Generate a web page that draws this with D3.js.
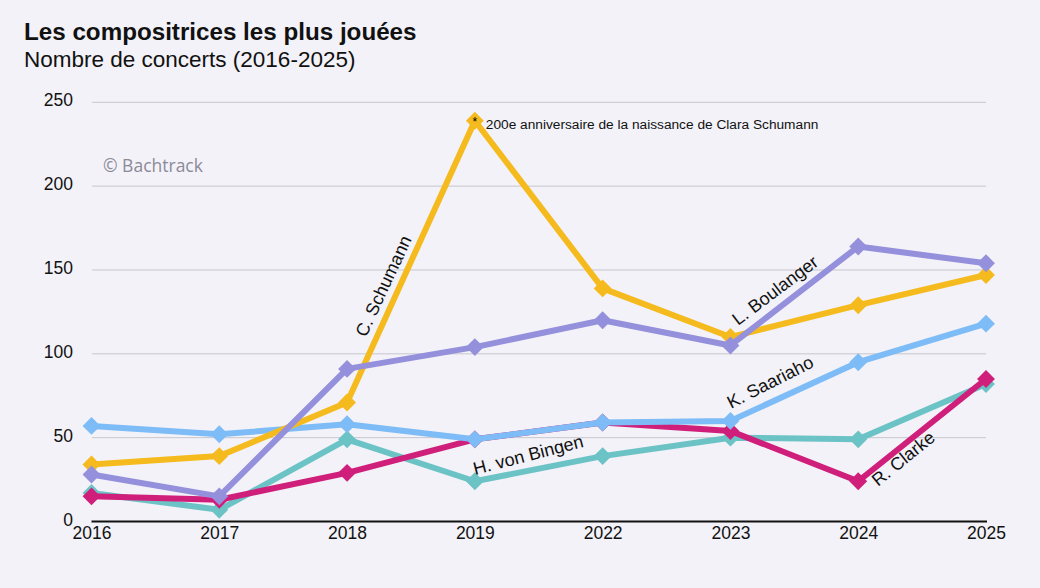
<!DOCTYPE html>
<html><head><meta charset="utf-8">
<script src="https://cdn.jsdelivr.net/npm/d3@7"></script>
<style>
html,body{margin:0;padding:0;background:#f3f2f8;}
svg{display:block;font-family:"Liberation Sans",Arial,Helvetica,sans-serif;}
</style></head>
<body><svg id="chart" width="1040" height="588"></svg>
<script>
const years = ["2016","2017","2018","2019","2022","2023","2024","2025"];
const yTicks = [0,50,100,150,200,250];
const hildegard = [17, 7, 49, 24, 39, 50, 49, 82];
const clarke    = [15, 13, 29, 49, 59, 54, 24, 85];
const saariaho  = [57, 52, 58, 49, 59, 60, 95, 118];
const schumann  = [34, 39, 71, 239, 139, 110, 129, 147];
const boulanger = [28, 15, 91, 104, 120, 105, 164, 154];

const series = [
  {name:"H. von Bingen", values:hildegard, color:"#6cc3c6"},
  {name:"R. Clarke", values:clarke, color:"#cf1f7b"},
  {name:"K. Saariaho", values:saariaho, color:"#7dbcf6"},
  {name:"C. Schumann", values:schumann, color:"#f5bb1e"},
  {name:"L. Boulanger", values:boulanger, color:"#9590dc"}
];

const svg = d3.select("#chart");
svg.append("rect").attr("width",1040).attr("height",588).attr("fill","#f3f2f8");

const x = d3.scalePoint().domain(years).range([91.5, 986]);
const y = d3.scaleLinear().domain([0,250]).range([521.5, 102.3]);

// title
svg.append("text").attr("x",24).attr("y",40).attr("font-size",24.2).attr("font-weight","bold")
  .attr("fill","#111").text("Les compositrices les plus jouées");
svg.append("text").attr("x",24).attr("y",67).attr("font-size",22.5)
  .attr("fill","#111").text("Nombre de concerts (2016-2025)");

// gridlines
const grid = svg.append("g");
grid.selectAll("line").data(yTicks.filter(d=>d>0)).join("line")
  .attr("x1",92).attr("x2",986).attr("y1",d=>y(d)).attr("y2",d=>y(d))
  .attr("stroke","#c7c6cc").attr("stroke-width",1);

// y axis labels
const yAxis = svg.append("g").attr("transform","translate(73,0)")
  .call(d3.axisLeft(y).tickValues(yTicks).tickSize(0).tickPadding(0));
yAxis.select(".domain").remove();
yAxis.selectAll("text").attr("font-size",17.5).attr("fill","#111")
  .attr("font-family","'Liberation Sans',Arial,sans-serif").attr("dy","0.2em");

// x axis
const xAxis = svg.append("g").attr("transform","translate(0,521.5)")
  .call(d3.axisBottom(x).tickSize(0).tickPadding(8));
xAxis.select(".domain").attr("stroke","#111").attr("stroke-width",2).attr("d","M91.5,0H987");
xAxis.selectAll("text").attr("font-size",17.5).attr("fill","#111")
  .attr("font-family","'Liberation Sans',Arial,sans-serif").attr("dy","0.55em");

// watermark
svg.append("text").attr("x",103).attr("y",172).attr("font-size",17.5)
  .attr("font-family","'Open Sans',Lato,sans-serif").attr("fill","#8b8a98").text("© Bachtrack");

// lines
const line = d3.line().x((d,i)=>x(years[i])).y(d=>y(d));
series.forEach(s=>{
  const g = svg.append("g");
  g.append("path").datum(s.values).attr("d",line).attr("fill","none")
    .attr("stroke",s.color).attr("stroke-width",6).attr("stroke-linejoin","round");
  g.selectAll("path.pt").data(s.values).join("path").attr("class","pt")
    .attr("transform",(d,i)=>`translate(${x(years[i])},${y(d)}) rotate(45)`)
    .attr("d",d3.symbol().type(d3.symbolSquare).size(160)).attr("fill",s.color);
});

// labels
function label(text, px, py, angle){
  svg.append("text").attr("transform",`translate(${px},${py}) rotate(${angle})`)
    .attr("font-size",18).attr("fill","#111").text(text);
}
label("C. Schumann", 366, 338, -65);
label("L. Boulanger", 738, 326, -37);
label("K. Saariaho", 731, 409, -27);
label("H. von Bingen", 475, 475, -14.5);
label("R. Clarke", 878, 487, -39);

// annotation
const i19 = years.indexOf("2019");
svg.append("text").attr("x",x(years[i19])).attr("y",y(schumann[i19])+5)
  .attr("text-anchor","middle").attr("font-size",12).attr("fill","#000").text("*");
svg.append("text").attr("x",x(years[i19])+11).attr("y",y(schumann[i19])+8)
  .attr("font-size",13.7).attr("fill","#111").text("200e anniversaire de la naissance de Clara Schumann");
</script>
</body></html>
